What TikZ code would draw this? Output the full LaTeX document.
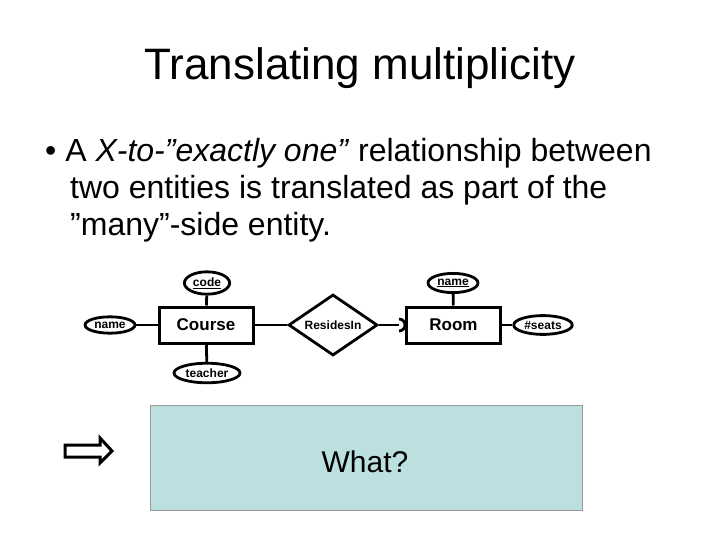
\documentclass[tikz,border=0pt]{standalone}
\usepackage{fontspec}
\setmainfont{Liberation Sans}
\usetikzlibrary{shapes.geometric}
\definecolor{boxblue}{HTML}{BCDFE0}
\begin{document}
\begin{tikzpicture}[x=1pt,y=-1pt,
  ent/.style={draw,line width=3pt,minimum width=94pt,minimum height=36pt,inner sep=0pt,font=\fontsize{17}{19}\selectfont\bfseries},
  att/.style={draw,ellipse,line width=2.8pt,inner xsep=2pt,inner ysep=2.5pt,font=\fontsize{12}{13}\selectfont\bfseries},
  rel/.style={draw,diamond,aspect=1.5,line width=2.8pt,minimum width=89pt,minimum height=61pt,inner sep=0pt,font=\fontsize{12}{13}\selectfont\bfseries},
  ln/.style={line width=2.8pt}]
\useasboundingbox (0,0) rectangle (720,540);
\node (title) at (360,68) {\fontsize{44}{50}\selectfont Translating multiplicity};
\node[anchor=west,inner sep=0pt] (b1) at (45,153) {\fontsize{32}{36}\selectfont • A \textit{X-to-”exactly one”} relationship between};
\node[anchor=west,inner sep=0pt] (b2) at (70,190) {\fontsize{32}{36}\selectfont two entities is translated as part of the};
\node[anchor=west,inner sep=0pt] (b3) at (70,227) {\fontsize{32}{36}\selectfont ”many”-side entity.};
\node[ent] (course) at (206,325) {Course};
\node[ent] (room) at (453.5,325) {Room};
\node[rel] (res) at (333,325) {ResidesIn};
\node[att] (code) at (207,283) {\underline{code}};
\node[att] (cname) at (110,325) {name};
\node[att] (teacher) at (207,373) {teacher};
\node[att] (rname) at (453,283) {\underline{name}};
\node[att] (seats) at (543,325) {\#seats};
\draw[ln] (code) -- (course);
\draw[ln] (cname) -- (course);
\draw[ln] (teacher) -- (course);
\draw[ln] (rname) -- (room);
\draw[ln] (seats) -- (room);
\draw[ln] (course) -- (res);
\coordinate (tip) at ([xshift=-6pt]room.west);
\draw[ln] (res) -- (tip);
\draw[ln] ([yshift=-6pt]tip) arc (-90:90:6pt);
\node[draw=black!40,fill=boxblue,minimum width=432pt,minimum height=105pt] (box) at (366,457.5) {};
\node (what) at (365,462) {\fontsize{30}{34}\selectfont What?};
\draw[line width=3pt] (65,445) -- (100,445) -- (100,438) -- (112,451) -- (100,463) -- (100,457) -- (65,457) -- cycle;
\end{tikzpicture}
\end{document}
